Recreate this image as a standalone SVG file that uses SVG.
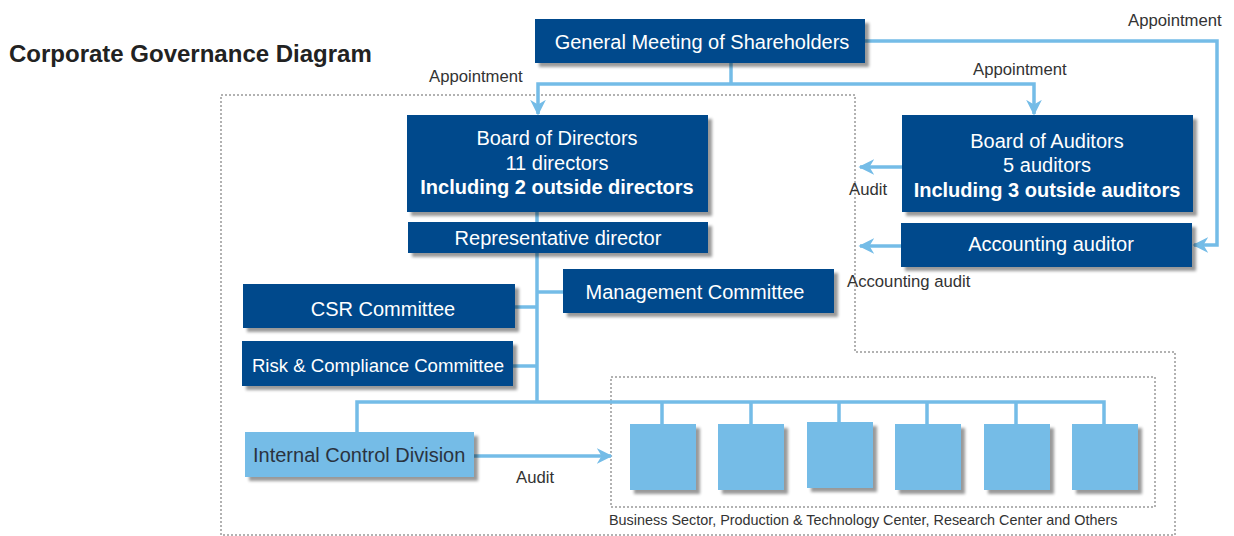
<svg xmlns="http://www.w3.org/2000/svg" width="1234" height="536" viewBox="0 0 1234 536">
<style>
.dk{fill:#03488c;filter:url(#sh)}
.lt{fill:#74bce7;filter:url(#sh)}
.wt{fill:#fff;font-family:"Liberation Sans",Arial,sans-serif;font-size:20px;text-anchor:middle}
.b{font-weight:bold}
.lbl{fill:#333;font-family:"Liberation Sans",Arial,sans-serif;font-size:16.7px}
.ln{fill:none;stroke:#74bce7;stroke-width:3.5}
.ar{fill:none;stroke:#74bce7;stroke-width:3.5;marker-end:url(#ah)}
.dot{fill:none;stroke:#999;stroke-width:1.5;stroke-dasharray:2 2}
</style>
<defs>
<filter id="sh" x="-10%" y="-10%" width="130%" height="140%">
<feDropShadow dx="4" dy="4" stdDeviation="1.8" flood-color="#000" flood-opacity="0.4"/>
</filter>
<marker id="ah" viewBox="0 0 10 10" refX="9" refY="5" markerWidth="4.5" markerHeight="4.5" orient="auto" markerUnits="strokeWidth">
<path d="M0,0 L10,5 L0,10 L3,5 Z" fill="#74bce7"/>
</marker>
</defs>
<rect width="1234" height="536" fill="#fff"/>
<text x="9" y="62" style="font-family:'Liberation Sans',Arial,sans-serif;font-size:24px;font-weight:bold;fill:#222">Corporate Governance Diagram</text>
<g id="boundaries">
<path class="dot" d="M221,95 H855 V352 H1175 V535 H221 Z"/>
<rect class="dot" x="611" y="377" width="544" height="130"/>
</g>
<g id="connectors">
<path class="ln" d="M731,63 V84"/>
<path class="ar" d="M731,84 H538 V114"/>
<path class="ar" d="M731,84 H1034 V114"/>
<path class="ar" d="M865,41 H1217 V245 H1194"/>
<path class="ar" d="M902,167 H860"/>
<path class="ar" d="M901,246 H860"/>
<path class="ln" d="M537,212 V222"/>
<path class="ln" d="M537,253 V402"/>
<path class="ln" d="M537,292 H563"/>
<path class="ln" d="M515,307 H537"/>
<path class="ln" d="M513,366 H537"/>
<path class="ln" d="M357,433 V402 H1104 V424"/>
<path class="ln" d="M662,402 V424 M751,402 V424 M839,402 V422 M927,402 V424 M1016,402 V424"/>
<path class="ar" d="M474,456 H611"/>
</g>
<g id="labels">
<text class="lbl" x="429" y="82">Appointment</text>
<text class="lbl" x="973" y="75">Appointment</text>
<text class="lbl" x="1128" y="26">Appointment</text>
<text class="lbl" x="849" y="195">Audit</text>
<text class="lbl" x="847" y="287">Accounting audit</text>
<text class="lbl" x="516" y="483">Audit</text>
<text class="lbl" x="609" y="525" style="font-size:14.4px">Business Sector, Production &amp; Technology Center, Research Center and Others</text>
</g>
<g id="gms"><rect class="dk" x="535" y="19" width="330" height="44"/><text class="wt" x="702" y="49">General Meeting of Shareholders</text></g>
<g id="bod"><rect class="dk" x="407" y="115" width="301" height="97"/>
<text class="wt" x="557" y="145">Board of Directors</text>
<text class="wt" x="557" y="170">11 directors</text>
<text class="wt b" x="557" y="194">Including 2 outside directors</text></g>
<g id="rep"><rect class="dk" x="408" y="222" width="300" height="31"/><text class="wt" x="558" y="245">Representative director</text></g>
<g id="boa"><rect class="dk" x="902" y="115" width="291" height="97"/>
<text class="wt" x="1047" y="148">Board of Auditors</text>
<text class="wt" x="1047" y="172">5 auditors</text>
<text class="wt b" x="1047" y="197">Including 3 outside auditors</text></g>
<g id="acc"><rect class="dk" x="901" y="223" width="291" height="44"/><text class="wt" x="1051" y="251">Accounting auditor</text></g>
<g id="mgmt"><rect class="dk" x="563" y="269" width="271" height="44"/><text class="wt" x="695" y="299">Management Committee</text></g>
<g id="csr"><rect class="dk" x="243" y="284" width="272" height="44"/><text class="wt" x="383" y="316">CSR Committee</text></g>
<g id="risk"><rect class="dk" x="242" y="341" width="271" height="45"/><text class="wt" x="378" y="372" style="font-size:18.6px">Risk &amp; Compliance Committee</text></g>
<g id="icd"><rect class="lt" x="245" y="432" width="229" height="45"/><text x="253" y="462" style="fill:#2a3340;font-family:'Liberation Sans',Arial,sans-serif;font-size:20px">Internal Control Division</text></g>
<g id="units">
<rect class="lt" x="630" y="424" width="66" height="66"/>
<rect class="lt" x="718" y="424" width="66" height="66"/>
<rect class="lt" x="807" y="422" width="66" height="66"/>
<rect class="lt" x="895" y="424" width="66" height="66"/>
<rect class="lt" x="984" y="424" width="66" height="66"/>
<rect class="lt" x="1072" y="424" width="66" height="66"/>
</g>
</svg>
